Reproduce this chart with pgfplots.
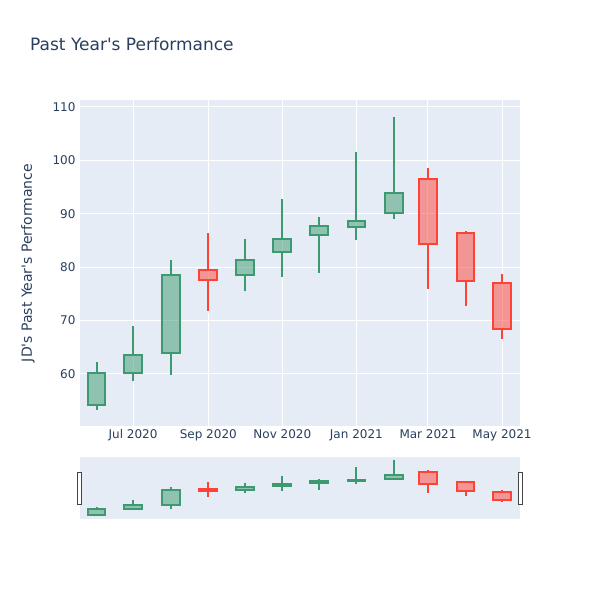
\documentclass[border=0pt]{standalone}
\usepackage{fontspec}
\setmainfont{DejaVu Sans}[Ligatures=TeXOff]
\usepackage{pgfplots}
\pgfplotsset{compat=1.18}
\usepgfplotslibrary{statistics}
\definecolor{inc}{HTML}{3D9970}
\definecolor{dec}{HTML}{FF4136}
\definecolor{bg}{HTML}{E5ECF6}
\definecolor{txt}{HTML}{2A3F5F}
\definecolor{handle}{HTML}{444444}
% x = days since 1 Jun 2020; arguments: x, open, high, low, close
\newcommand\candleInc[5]{\addplot[draw=inc, fill=inc, fill opacity=0.5, line width=\clw,
  boxplot prepared={draw position=#1, lower whisker=#4, lower quartile=#2,
  median=#5, upper quartile=#5, upper whisker=#3}] coordinates {};}
\newcommand\candleDec[5]{\addplot[draw=dec, fill=dec, fill opacity=0.5, line width=\clw,
  boxplot prepared={draw position=#1, lower whisker=#4, lower quartile=#5,
  median=#2, upper quartile=#2, upper whisker=#3}] coordinates {};}
\newcommand\candles{%
  \candleInc{0}{54.1}{62.2}{53.3}{60.1}
  \candleInc{30}{60.1}{69.0}{58.7}{63.6}
  \candleInc{61}{63.9}{81.3}{59.8}{78.5}
  \candleDec{92}{79.4}{86.4}{71.7}{77.6}
  \candleInc{122}{78.6}{85.3}{75.5}{81.4}
  \candleInc{153}{82.8}{92.7}{78.1}{85.2}
  \candleInc{183}{86.1}{89.4}{78.9}{87.8}
  \candleInc{214}{87.5}{101.6}{85.1}{88.6}
  \candleInc{245}{90.1}{108.2}{89.0}{93.8}
  \candleDec{273}{96.6}{98.6}{76.0}{84.3}
  \candleDec{304}{86.4}{86.7}{72.8}{77.4}
  \candleDec{334}{77.1}{78.7}{66.5}{68.5}
}
\newcommand\clw{2bp}
\begin{document}
\begin{tikzpicture}
\fill[white] (0,0) rectangle (600bp,600bp);
\path[use as bounding box] (0,0) rectangle (600bp,600bp);
\node[anchor=west, text=txt, font=\fontsize{17bp}{20bp}\selectfont, inner sep=0pt] at (30bp,556bp) {Past Year's Performance};
\node[rotate=90, text=txt, font=\fontsize{14bp}{17bp}\selectfont] at (28bp,337bp) {JD's Past Year's Performance};
\begin{axis}[
  at={(80bp,174bp)}, anchor=south west, scale only axis,
  width=440bp, height=326bp,
  xmin=-13.7, xmax=348.8, ymin=50.26, ymax=111.3,
  axis background/.style={fill=bg},
  axis line style={draw=none},
  major tick length=0pt,
  grid=major, grid style={white, line width=1bp},
  xtick={30,92,153,214,273,334},
  xticklabels={Jul 2020,Sep 2020,Nov 2020,Jan 2021,Mar 2021,May 2021},
  ytick={60,70,80,90,100,110},
  tick label style={font=\fontsize{12bp}{14bp}\selectfont, text=txt},
  /pgf/number format/assume math mode=true,
  xticklabel style={yshift=0bp},
  yticklabel style={xshift=-1bp},
  boxplot/draw direction=y, boxplot/box extend=14.6, boxplot/whisker extend=0,
]
\candles
\end{axis}
\begin{axis}[
  at={(80bp,81bp)}, anchor=south west, scale only axis,
  width=440bp, height=62bp,
  xmin=-13.7, xmax=348.8, ymin=50.0, ymax=111.5,
  axis background/.style={fill=bg},
  axis line style={draw=none},
  xtick=\empty, ytick=\empty,
  boxplot/draw direction=y, boxplot/box extend=14.6, boxplot/whisker extend=0,
]
\candles
\end{axis}
\draw[handle, fill=white, line width=1bp] (77.5bp,95bp) rectangle (81.5bp,127bp);
\draw[handle, fill=white, line width=1bp] (518.5bp,95bp) rectangle (522.5bp,127bp);
\end{tikzpicture}
\end{document}
